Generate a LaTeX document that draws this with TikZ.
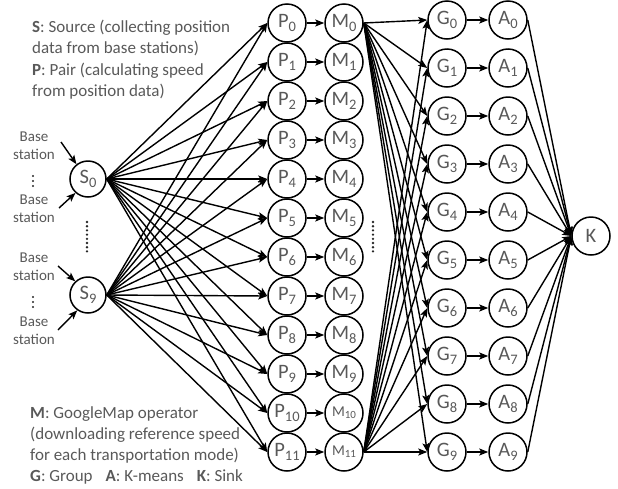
\documentclass[tikz,border=0pt]{standalone}
\usepackage{fontspec}
\setmainfont{Carlito}
\usetikzlibrary{arrows.meta}
\definecolor{txt}{RGB}{89,89,89}
\newcommand\nlab[2]{#1\raisebox{-0.22em}{\fontsize{14.5}{14.5}\selectfont #2}}
\newcommand\nlabs[2]{#1\raisebox{-0.15em}{\fontsize{11}{11}\selectfont #2}}
\begin{document}
\begin{tikzpicture}[x=1pt,y=-1pt,
  nd/.style={circle,draw,line width=1.5pt,minimum size=38pt,inner sep=0pt,font=\fontsize{20.5}{20.5}\selectfont,text=txt},
  arr/.style={line width=1.4pt,-{Stealth[length=9pt,width=7pt,inset=2pt]}},
  lg/.style={font=\fontsize{17}{21.3}\selectfont,text=txt,align=left,anchor=north west,inner sep=0pt},
  bs/.style={font=\fontsize{15}{18}\selectfont,text=txt,align=center,inner sep=0pt},
  dotf/.style={fill=black!85}
]
\useasboundingbox (0,0) rectangle (618,488);

% legends
\node[lg] (lgtop) at (32,20) {\textbf{S}: Source (collecting position\\data from base stations)\\\textbf{P}: Pair (calculating speed\\from position data)};
\node[lg] (lgbot) at (30,406) {\textbf{M}: GoogleMap operator\\(downloading reference speed\\for each transportation mode)\\\textbf{G}: Group\hspace{13pt}\textbf{A}: K-means\hspace{13pt}\textbf{K}: Sink};

% sources
\node[nd,minimum size=36pt] (S0) at (88,179) {\nlab{S}{0}};
\node[nd,minimum size=36pt] (S9) at (88,295) {\nlab{S}{9}};

% base stations
\node[bs] (bs1) at (34,146) {Base\\station};
\node[bs] (bs2) at (34,209) {Base\\station};
\node[bs] (bs3) at (34,267) {Base\\station};
\node[bs] (bs4) at (34,331) {Base\\station};
\coordinate (b1) at (61,142);
\coordinate (b2) at (59,208);
\coordinate (b3) at (58,266);
\coordinate (b4) at (58,330);
\draw[arr] (b1) -- (S0.128);
\draw[arr] (b2) -- (S0.228);
\draw[arr] (b3) -- (S9.133);
\draw[arr] (b4) -- (S9.235);
\foreach \k in {0,1,2} {
  \fill[dotf] (33,176+5*\k) circle (1.2);
  \fill[dotf] (33,297+5*\k) circle (1.2);
}
\foreach \k in {0,...,7} {
  \fill[dotf] (87,222+4.2*\k) circle (1.3);
  \fill[dotf] (373,222+4.2*\k) circle (1.3);
}

% P and M columns
\foreach \i in {0,...,11} {
  \pgfmathsetmacro\yy{23+39*\i}
  \node[nd] (P\i) at (287,\yy) {\nlab{P}{\i}};
  \ifnum\i>9
    \node[nd,font=\fontsize{15}{15}\selectfont] (M\i) at (344,\yy) {\nlabs{M}{\i}};
  \else
    \node[nd] (M\i) at (344,\yy) {\nlab{M}{\i}};
  \fi
}
% G and A columns
\foreach \j in {0,...,9} {
  \pgfmathsetmacro\yy{20+48*\j}
  \node[nd] (G\j) at (447,\yy) {\nlab{G}{\j}};
  \node[nd] (A\j) at (508,\yy) {\nlab{A}{\j}};
}
\node[nd] (K) at (591,236) {K};

% connectors
\foreach \i in {0,...,11} {
  \draw[arr] (S0.east) -- (P\i.west);
  \draw[arr] (S9.east) -- (P\i.west);
  \draw[arr] (P\i) -- (M\i);
}
\foreach \j in {0,...,9} {
  \draw[arr] (M0.east) -- (G\j.west);
  \draw[arr] (M11.east) -- (G\j.west);
  \draw[arr] (G\j) -- (A\j);
  \draw[arr] (A\j.east) -- (K.west);
}
\end{tikzpicture}
\end{document}
